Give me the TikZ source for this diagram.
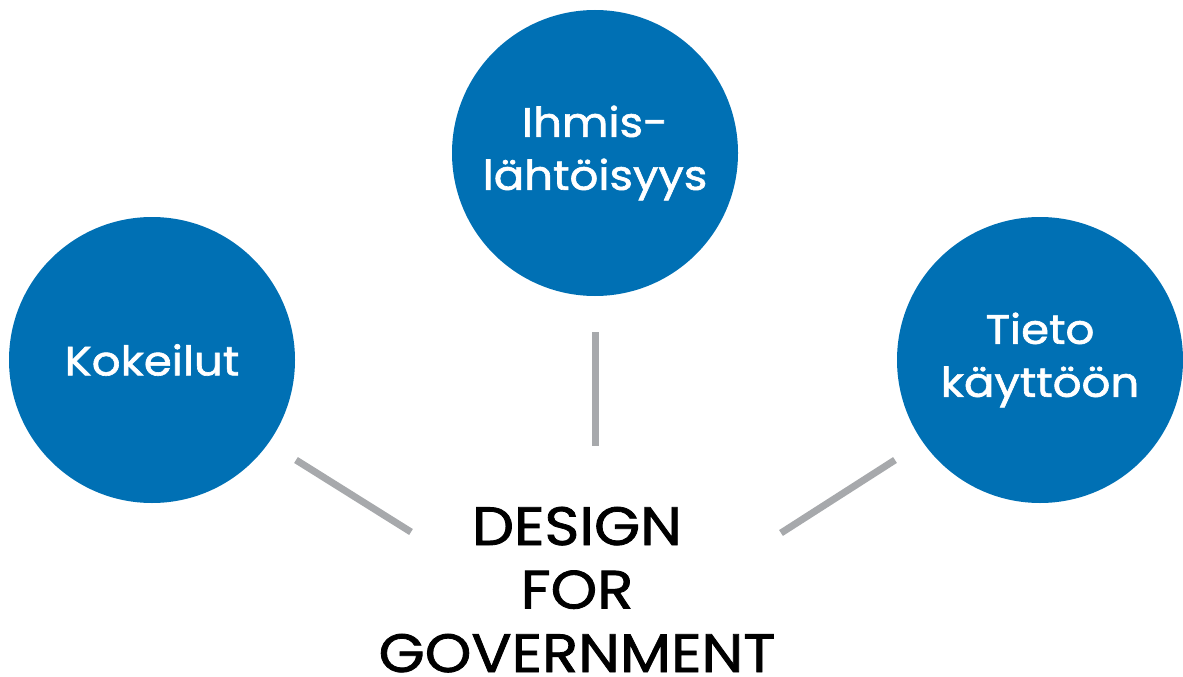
\documentclass[tikz,border=0pt]{standalone}
\usepackage{fontspec}
\setmainfont{Poppins}[FakeStretch=1.1, FakeBold=1.5]
\usepackage{xcolor}
\usepackage{tikz}
\definecolor{B0}{HTML}{0070B4}
\definecolor{G0}{HTML}{A7A9AC}
\tikzstyle{topic} = [circle, fill=B0, minimum size=286pt, inner sep=0pt, align=center, text=white, font=\fontsize{41}{53}\selectfont]
\tikzstyle{link} = [draw=G0, line width=7pt]
\tikzstyle{title} = [align=center, inner sep=0pt, font=\fontsize{54}{63.5}\selectfont]

\begin{document}
\begin{tikzpicture}[x=1pt, y=-1pt]
	\useasboundingbox (0,0) rectangle (1183,677) ;
	
	\node[topic] (T1) at (152, 360) {Kokeilut} ;
	\node[topic] (T2) at (595, 153) {Ihmis-\\lähtöisyys} ;
	\node[topic] (T3) at (1040, 360) {Tieto\\käyttöön} ;
	
	\node[title, anchor=base] (D) at (577, 672) {DESIGN\\FOR\\GOVERNMENT} ;
	
	\coordinate (L1) at (296, 460) ;
	\coordinate (L1') at (411, 532) ;
	\coordinate (L2) at (595, 332) ;
	\coordinate (L2') at (595, 446) ;
	\coordinate (L3) at (895, 460) ;
	\coordinate (L3') at (781, 533) ;
	
	\foreach \n in {1, 2, 3}
	{
		\draw[link] (L\n) -- (L\n') ;
	}
\end{tikzpicture}
\end{document}
